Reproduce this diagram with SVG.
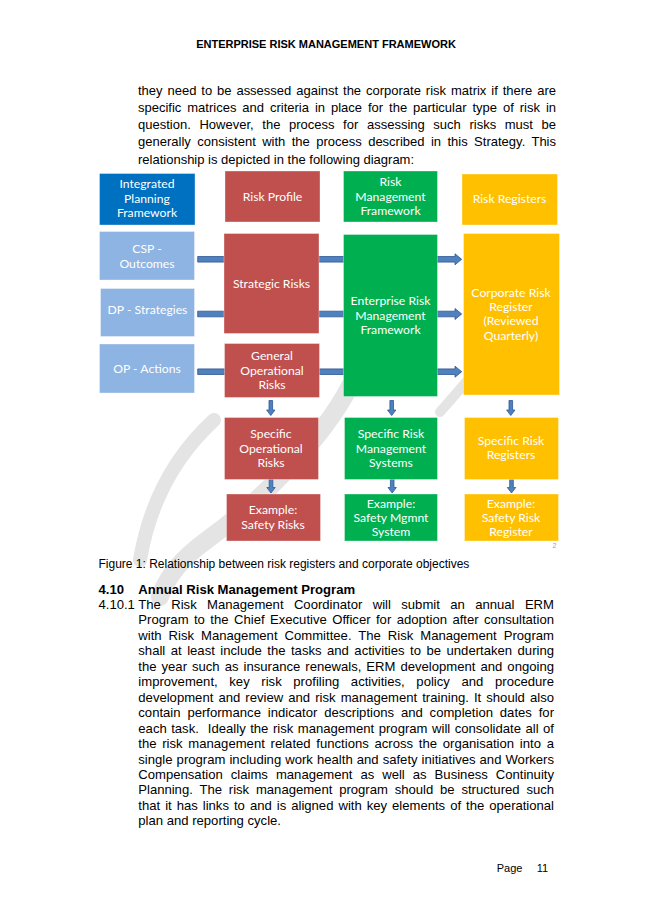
<svg xmlns="http://www.w3.org/2000/svg" xmlns:xlink="http://www.w3.org/1999/xlink" width="652" height="923" viewBox="0 0 652 923">
<style>
  .doc { font-family: "Liberation Sans", Arial, sans-serif; fill: #000; }
  .hdr { font-size: 11px; font-weight: bold; text-anchor: middle; }
  .p1 { font-size: 13px; }
  .p2 { font-size: 13.1px; }
  .cap { font-size: 12px; }
  .h2 { font-size: 13.1px; font-weight: bold; }
  .pg { font-size: 11px; }
  .box { stroke: #ffffff; stroke-opacity: 0.35; stroke-width: 1; }
  .dblue { fill: #0070C0; }
  .lblue { fill: #8DB4E2; }
  .red { fill: #C0504D; }
  .green { fill: #00B050; }
  .yellow { fill: #FFC000; }
  .bt { font-family: Lato, "Open Sans", "Liberation Sans", sans-serif; font-size: 12.2px; fill: #ffffff; text-anchor: middle; }
  .arr { fill: #4F81BD; stroke: #2F5597; stroke-width: 0.8; }
  .wm { fill: none; stroke: #e4e4e4; stroke-linecap: round; }
</style>
<defs>
  <path id="harr" d="M0,-2.8 H257.3 V-5.5 L264,0 L257.3,5.5 V2.8 H0 Z"/>
  <path id="darr" d="M-1.8,0 V9.5 H-4.2 L0,15 L4.2,9.5 H1.8 V0 Z"/>
</defs>
<rect width="652" height="923" fill="#ffffff"/>

<g id="watermark">
  <path class="wm" stroke-width="18" d="M350,386 C322,440 262,500 207,540 C182,558 167,576 160,597"/>
  <path class="wm" stroke-width="14" d="M214,420 C176,455 150,500 140,560"/>
  <path class="wm" stroke-width="10" d="M466,382 C456,394 447,404 440,412"/>
</g>

<g id="page-text" class="doc">
  <text class="hdr" x="326" y="48">ENTERPRISE RISK MANAGEMENT FRAMEWORK</text>
  <text class="p1" x="138" y="94.7" word-spacing="1.29" textLength="418" lengthAdjust="spacing">they need to be assessed against the corporate risk matrix if there are</text>
  <text class="p1" x="138" y="111.9" word-spacing="2.32" textLength="418" lengthAdjust="spacing">specific matrices and criteria in place for the particular type of risk in</text>
  <text class="p1" x="138" y="129.1" word-spacing="4.94" textLength="418" lengthAdjust="spacing">question. However, the process for assessing such risks must be</text>
  <text class="p1" x="138" y="146.3" word-spacing="2.78" textLength="418" lengthAdjust="spacing">generally consistent with the process described in this Strategy. This</text>
  <text class="p1" x="138" y="163.5">relationship is depicted in the following diagram:</text>

  <text class="cap" x="98.5" y="567.5">Figure 1: Relationship between risk registers and corporate objectives</text>

  <text class="h2" x="98.5" y="594">4.10</text>
  <text class="h2" x="138.3" y="594">Annual Risk Management Program</text>

  <text class="p2" x="98.5" y="609">4.10.1</text>
  <text class="p2" x="138.3" y="609" word-spacing="6.74" textLength="415.7" lengthAdjust="spacing">The Risk Management Coordinator will submit an annual ERM</text>
  <text class="p2" x="138.3" y="624.45" word-spacing="1.78" textLength="415.7" lengthAdjust="spacing">Program to the Chief Executive Officer for adoption after consultation</text>
  <text class="p2" x="138.3" y="639.9" word-spacing="3.33" textLength="415.7" lengthAdjust="spacing">with Risk Management Committee. The Risk Management Program</text>
  <text class="p2" x="138.3" y="655.35" word-spacing="1.85" textLength="415.7" lengthAdjust="spacing">shall at least include the tasks and activities to be undertaken during</text>
  <text class="p2" x="138.3" y="670.8" word-spacing="1.37" textLength="415.7" lengthAdjust="spacing">the year such as insurance renewals, ERM development and ongoing</text>
  <text class="p2" x="138.3" y="686.25" word-spacing="8.01" textLength="415.7" lengthAdjust="spacing">improvement, key risk profiling activities, policy and procedure</text>
  <text class="p2" x="138.3" y="701.7" word-spacing="1.45" textLength="415.7" lengthAdjust="spacing">development and review and risk management training. It should also</text>
  <text class="p2" x="138.3" y="717.15" word-spacing="3.22" textLength="415.7" lengthAdjust="spacing">contain performance indicator descriptions and completion dates for</text>
  <text class="p2" x="138.3" y="732.6" word-spacing="0.85" textLength="415.7" lengthAdjust="spacing" xml:space="preserve">each task.  Ideally the risk management program will consolidate all of</text>
  <text class="p2" x="138.3" y="748.05" word-spacing="2.1" textLength="415.7" lengthAdjust="spacing">the risk management related functions across the organisation into a</text>
  <text class="p2" x="138.3" y="763.5" word-spacing="0.4" textLength="415.7" lengthAdjust="spacing">single program including work health and safety initiatives and Workers</text>
  <text class="p2" x="138.3" y="778.95" word-spacing="4.37" textLength="415.7" lengthAdjust="spacing">Compensation claims management as well as Business Continuity</text>
  <text class="p2" x="138.3" y="794.4" word-spacing="3.25" textLength="415.7" lengthAdjust="spacing">Planning. The risk management program should be structured such</text>
  <text class="p2" x="138.3" y="809.85" word-spacing="1.44" textLength="415.7" lengthAdjust="spacing">that it has links to and is aligned with key elements of the operational</text>
  <text class="p2" x="138.3" y="825.3">plan and reporting cycle.</text>

  <text class="pg" x="496.7" y="872">Page</text>
  <text class="pg" x="536.7" y="872">11</text>
</g>

<g id="connectors">
  <use xlink:href="#harr" class="arr" x="197.7" y="259.3"/>
  <use xlink:href="#harr" class="arr" x="197.7" y="314"/>
  <use xlink:href="#harr" class="arr" x="197.7" y="371.7"/>
  <use xlink:href="#darr" class="arr" x="270.8" y="400.5"/>
  <use xlink:href="#darr" class="arr" x="391.7" y="400.5"/>
  <use xlink:href="#darr" class="arr" x="510.8" y="400.5"/>
  <use xlink:href="#darr" class="arr" x="271" y="478"/>
  <use xlink:href="#darr" class="arr" x="392.2" y="478"/>
  <use xlink:href="#darr" class="arr" x="511.5" y="478"/>
</g>

<g id="n-ipf"><rect class="box dblue" x="99.5" y="173.5" width="95.5" height="51.5"/>
  <text class="bt" x="147" y="187.5">Integrated</text><text class="bt" x="147" y="202.5">Planning</text><text class="bt" x="147" y="216.9">Framework</text></g>
<g id="n-risk-profile"><rect class="box red" x="225" y="171" width="95" height="51"/>
  <text class="bt" x="272.5" y="200.9">Risk Profile</text></g>
<g id="n-rmf"><rect class="box green" x="343.5" y="171" width="94" height="51"/>
  <text class="bt" x="390.5" y="185.9">Risk</text><text class="bt" x="390.5" y="201.2">Management</text><text class="bt" x="390.5" y="215.2">Framework</text></g>
<g id="n-risk-registers"><rect class="box yellow" x="462" y="174" width="95.5" height="51"/>
  <text class="bt" x="509.5" y="203.2">Risk Registers</text></g>

<g id="n-csp"><rect class="box lblue" x="99.5" y="231.5" width="95" height="48.5"/>
  <text class="bt" x="147" y="252.5">CSP -</text><text class="bt" x="147" y="267.5">Outcomes</text></g>
<g id="n-dp"><rect class="box lblue" x="100.5" y="288.5" width="94" height="48"/>
  <text class="bt" x="147.5" y="314.2">DP - Strategies</text></g>
<g id="n-op"><rect class="box lblue" x="99.5" y="344" width="95" height="49"/>
  <text class="bt" x="147" y="372.5">OP - Actions</text></g>

<g id="n-strategic"><rect class="box red" x="224" y="233.5" width="95" height="100"/>
  <text class="bt" x="271.5" y="287.5">Strategic Risks</text></g>
<g id="n-general-op"><rect class="box red" x="224.5" y="343.5" width="95" height="54"/>
  <text class="bt" x="272" y="360.2">General</text><text class="bt" x="272" y="374.9">Operational</text><text class="bt" x="272" y="389.2">Risks</text></g>
<g id="n-erm"><rect class="box green" x="343.5" y="234.5" width="94" height="162"/>
  <text class="bt" x="390.5" y="305.2">Enterprise Risk</text><text class="bt" x="390.5" y="319.9">Management</text><text class="bt" x="390.5" y="333.9">Framework</text></g>
<g id="n-corporate"><rect class="box yellow" x="463.5" y="233.5" width="96" height="161.5"/>
  <text class="bt" x="511" y="296.5">Corporate Risk</text><text class="bt" x="511" y="310.9">Register</text><text class="bt" x="511" y="325.2">(Reviewed</text><text class="bt" x="511" y="339.9">Quarterly)</text></g>

<g id="n-spec-op"><rect class="box red" x="224.5" y="417.5" width="94" height="62"/>
  <text class="bt" x="271" y="437.5">Specific</text><text class="bt" x="271" y="452.5">Operational</text><text class="bt" x="271" y="466.9">Risks</text></g>
<g id="n-spec-rms"><rect class="box green" x="344.5" y="417.5" width="93" height="62"/>
  <text class="bt" x="391" y="437.5">Specific Risk</text><text class="bt" x="391" y="452.5">Management</text><text class="bt" x="391" y="466.9">Systems</text></g>
<g id="n-spec-rr"><rect class="box yellow" x="464.5" y="417.5" width="94" height="62"/>
  <text class="bt" x="511" y="444.9">Specific Risk</text><text class="bt" x="511" y="459.2">Registers</text></g>

<g id="n-ex-sr"><rect class="box red" x="226.5" y="494" width="94" height="47"/>
  <text class="bt" x="273" y="514.2">Example:</text><text class="bt" x="273" y="528.5">Safety Risks</text></g>
<g id="n-ex-sms"><rect class="box green" x="344.5" y="494" width="93" height="47"/>
  <text class="bt" x="391" y="507.5">Example:</text><text class="bt" x="391" y="521.5">Safety Mgmnt</text><text class="bt" x="391" y="535.9">System</text></g>
<g id="n-ex-srr"><rect class="box yellow" x="464.5" y="494" width="94" height="47"/>
  <text class="bt" x="511" y="507.5">Example:</text><text class="bt" x="511" y="521.5">Safety Risk</text><text class="bt" x="511" y="535.9">Register</text></g>

<text x="552.5" y="548" font-family="'Liberation Sans', sans-serif" font-size="7" fill="#a0a0a0">2</text>
</svg>
